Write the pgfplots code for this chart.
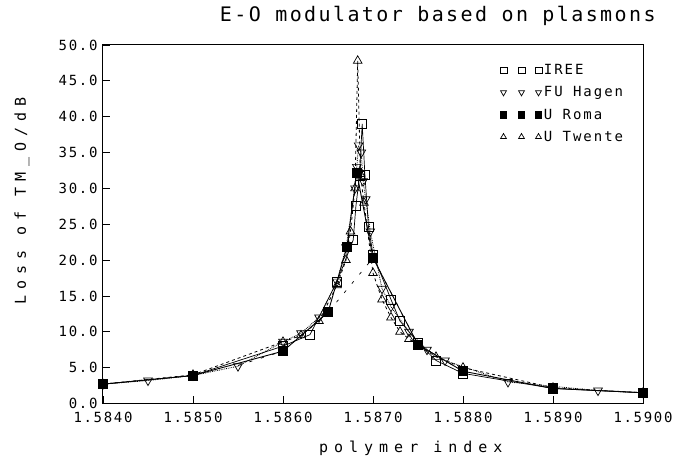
\documentclass[border=0pt]{standalone}
\usepackage{fontspec}
\usepackage{pgfplots}
\pgfplotsset{compat=1.18}
\newfontfamily\titlefont{DejaVu Sans Mono}[LetterSpace=12]
\newfontfamily\tickfont{DejaVu Sans Mono}[LetterSpace=12]
\newfontfamily\labelfont{DejaVu Sans Mono}[LetterSpace=40]
\newfontfamily\legfont{DejaVu Sans Mono}[LetterSpace=14]
\begin{document}
\begin{tikzpicture}[x=1pt,y=1pt]
\path[use as bounding box] (-103,-65) rectangle (572,403.5);
\begin{axis}[
  scale only axis,
  width=540pt, height=358.5pt,
  xmin=1.5840, xmax=1.5900, ymin=0, ymax=50,
  xtick={1.5840,1.5850,1.5860,1.5870,1.5880,1.5890,1.5900},
  xticklabels={1.5840,1.5850,1.5860,1.5870,1.5880,1.5890,1.5900},
  ytick={0,5,10,15,20,25,30,35,40,45,50},
  yticklabels={0.0,5.0,10.0,15.0,20.0,25.0,30.0,35.0,40.0,45.0,50.0},
  xtick pos=left, ytick pos=left, tick align=inside,
  major tick length=7pt,
  axis line style={line width=1pt},
  tick style={line width=0.8pt,black},
  x tick label style={font=\fontsize{14}{14}\tickfont, yshift=-5pt},
  y tick label style={font=\fontsize{14}{14}\tickfont, xshift=-2pt},
  scaled x ticks=false,
  title={E-O modulator based on plasmons},
  title style={font=\fontsize{20}{20}\titlefont, at={(axis description cs:0.62,1)}, anchor=south, yshift=10pt},
  xlabel={polymer index},
  xlabel style={font=\fontsize{15}{15}\labelfont, at={(axis description cs:0.57,0)}, anchor=center, yshift=-45pt},
  ylabel={Loss of TM\_O/dB},
  ylabel style={font=\fontsize{15}{15}\labelfont, at={(axis description cs:-0.15,0.565)}, anchor=center, rotate=0},
  legend style={draw=none, fill=none, at={(axis cs:1.58841,47.6)}, anchor=north west,
    font=\fontsize{14}{14}\legfont, row sep=6.5pt, inner sep=0pt},
  legend cell align=left,
  legend image code/.code={\draw[only marks, mark size=3.4pt] plot coordinates {(0pt,0pt) (18pt,0pt) (35pt,0pt)};},
]
% IREE
\addplot[black, line width=0.7pt, mark=square, mark size=4.5pt, mark options={solid, line width=0.7pt}] coordinates {
(1.5840,2.7) (1.5850,3.9) (1.5860,8.0) (1.5863,9.6) (1.5866,17.0) (1.58678,22.8)
(1.58681,27.5) (1.58685,31.8) (1.58688,39.0) (1.58691,31.9) (1.58695,24.6)
(1.5870,20.8) (1.5872,14.5) (1.5873,11.5) (1.5875,8.5) (1.5877,6.0) (1.5880,4.2)
(1.5890,2.1) (1.5900,1.5)};
\addlegendentry{IREE}
% FU Hagen
\addplot[black, densely dotted, line width=0.8pt, mark=triangle, mark size=5pt, mark options={solid, rotate=180, line width=0.7pt}] coordinates {
(1.5840,2.7) (1.5845,3.2) (1.5850,3.9) (1.5855,5.2) (1.5860,8.6) (1.5862,9.8)
(1.5864,12.0) (1.5866,17.0) (1.5867,21.8) (1.58680,30.0) (1.58682,33.0)
(1.58684,36.0) (1.58687,35.0) (1.58689,31.0) (1.58692,28.5) (1.58697,24.0)
(1.5871,16.0) (1.5872,13.5) (1.5874,10.0) (1.5876,7.5) (1.5878,6.0)
(1.5885,3.0) (1.5895,1.8) (1.5900,1.5)};
\addlegendentry{FU Hagen}
% U Roma
\addplot[black, line width=0.9pt, mark=square*, mark size=4.5pt, mark options={solid}] coordinates {
(1.5840,2.7) (1.5850,3.9) (1.5860,7.3) (1.5865,12.7) (1.58671,21.8) (1.58682,32.2)
(1.5870,20.3) (1.5875,8.2) (1.5880,4.5) (1.5890,2.1) (1.5900,1.5)};
\addlegendentry{U Roma}
% U Twente
\addplot[black, dashed, line width=0.8pt, mark=triangle, mark size=5pt, mark options={solid, line width=0.7pt}] coordinates {
(1.5840,2.7) (1.5850,4.0) (1.5860,8.6) (1.5862,9.5) (1.5864,11.5) (1.5866,16.5)
(1.5867,20.0) (1.58675,24.0) (1.5868,30.0) (1.58683,47.8) (1.58686,32.0)
(1.5869,28.0) (1.5870,18.2) (1.5871,14.5) (1.5872,12.0) (1.5873,10.0)
(1.5874,9.0) (1.5877,6.5) (1.5880,5.0) (1.5890,2.2) (1.5900,1.5)};
\addlegendentry{U Twente}
% coarse dotted line
\addplot[forget plot, black, dash pattern=on 3pt off 9pt, line width=0.7pt] coordinates {
(1.5855,5.3) (1.5860,7.3) (1.5865,12.7) (1.5870,20.3) (1.5875,8.2) (1.5880,4.5)};
\end{axis}
\end{tikzpicture}
\end{document}
